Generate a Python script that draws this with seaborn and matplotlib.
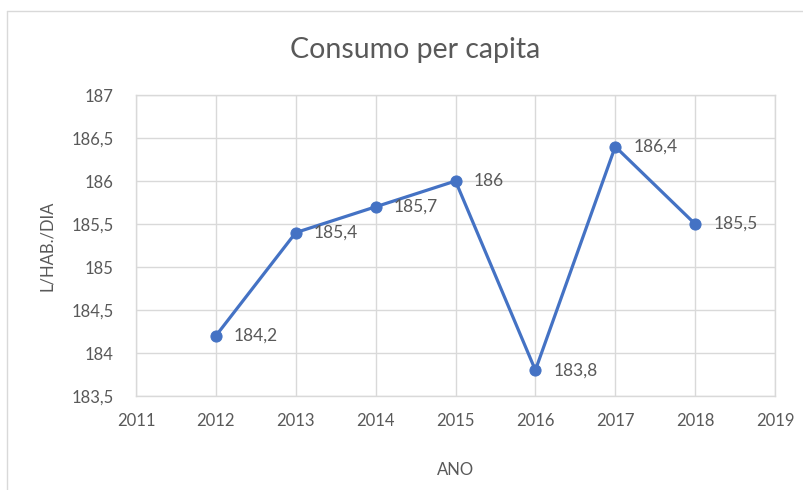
import matplotlib
matplotlib.use("Agg")
import matplotlib.pyplot as plt
from matplotlib.lines import Line2D
import seaborn as sns
import pandas as pd

# Consumo per capita (L/HAB./DIA) by year
anos = [2012, 2013, 2014, 2015, 2016, 2017, 2018]
consumo = [184.2, 185.4, 185.7, 186.0, 183.8, 186.4, 185.5]
x_ticks = [2011, 2012, 2013, 2014, 2015, 2016, 2017, 2018, 2019]
y_ticks = [183.5, 184, 184.5, 185, 185.5, 186, 186.5, 187]

df = pd.DataFrame({"ANO": anos, "consumo": consumo})

sns.set_theme(style="white")
plt.rcParams["font.family"] = ["Lato", "DejaVu Sans"]

TEXT = "#595959"
GRID = "#d9d9d9"
BLUE = "#4472c4"


def fmt(v):
    s = f"{v:g}"
    return s.replace(".", ",")


fig = plt.figure(figsize=(8.04, 4.90), dpi=100)
ax = fig.add_axes([136 / 804, 1 - 396 / 490, (775 - 136) / 804, (396 - 95) / 490])

sns.lineplot(data=df, x="ANO", y="consumo", ax=ax, color=BLUE, linewidth=2.3,
             marker="o", markersize=8, markeredgecolor=BLUE, markerfacecolor=BLUE)

ax.set_xlim(2011, 2019)
ax.set_ylim(183.5, 187)
ax.set_xticks(x_ticks)
ax.set_xticklabels([str(t) for t in x_ticks])
ax.set_yticks(y_ticks)
ax.set_yticklabels([fmt(t) for t in y_ticks])
ax.grid(True, color=GRID, linewidth=1)
ax.set_axisbelow(True)
for s in ax.spines.values():
    s.set_color(GRID)
    s.set_linewidth(1)
ax.tick_params(axis="both", length=0, labelsize=12, colors=TEXT)
ax.tick_params(axis="x", pad=12)
ax.tick_params(axis="y", pad=16)

ax.set_xlabel("ANO", fontsize=12, color=TEXT, labelpad=24)
ax.set_ylabel("L/HAB./DIA", fontsize=12, color=TEXT, labelpad=12)

for xv, yv in zip(anos, consumo):
    ax.annotate(fmt(yv), (xv, yv), xytext=(13, 0), textcoords="offset points",
                ha="left", va="center", fontsize=12.5, color=TEXT)

fig.text(415 / 804, 1 - 50 / 490, "Consumo per capita", ha="center", va="center",
         fontsize=20.5, color=TEXT)

# chart area frame (left and top edges)
fig.add_artist(Line2D([7 / 804, 7 / 804], [0, 1 - 11 / 490], transform=fig.transFigure,
                      color=GRID, linewidth=1))
fig.add_artist(Line2D([7 / 804, 1], [1 - 11 / 490, 1 - 11 / 490], transform=fig.transFigure,
                      color=GRID, linewidth=1))

fig.savefig("out.png", dpi=100, facecolor="white")
